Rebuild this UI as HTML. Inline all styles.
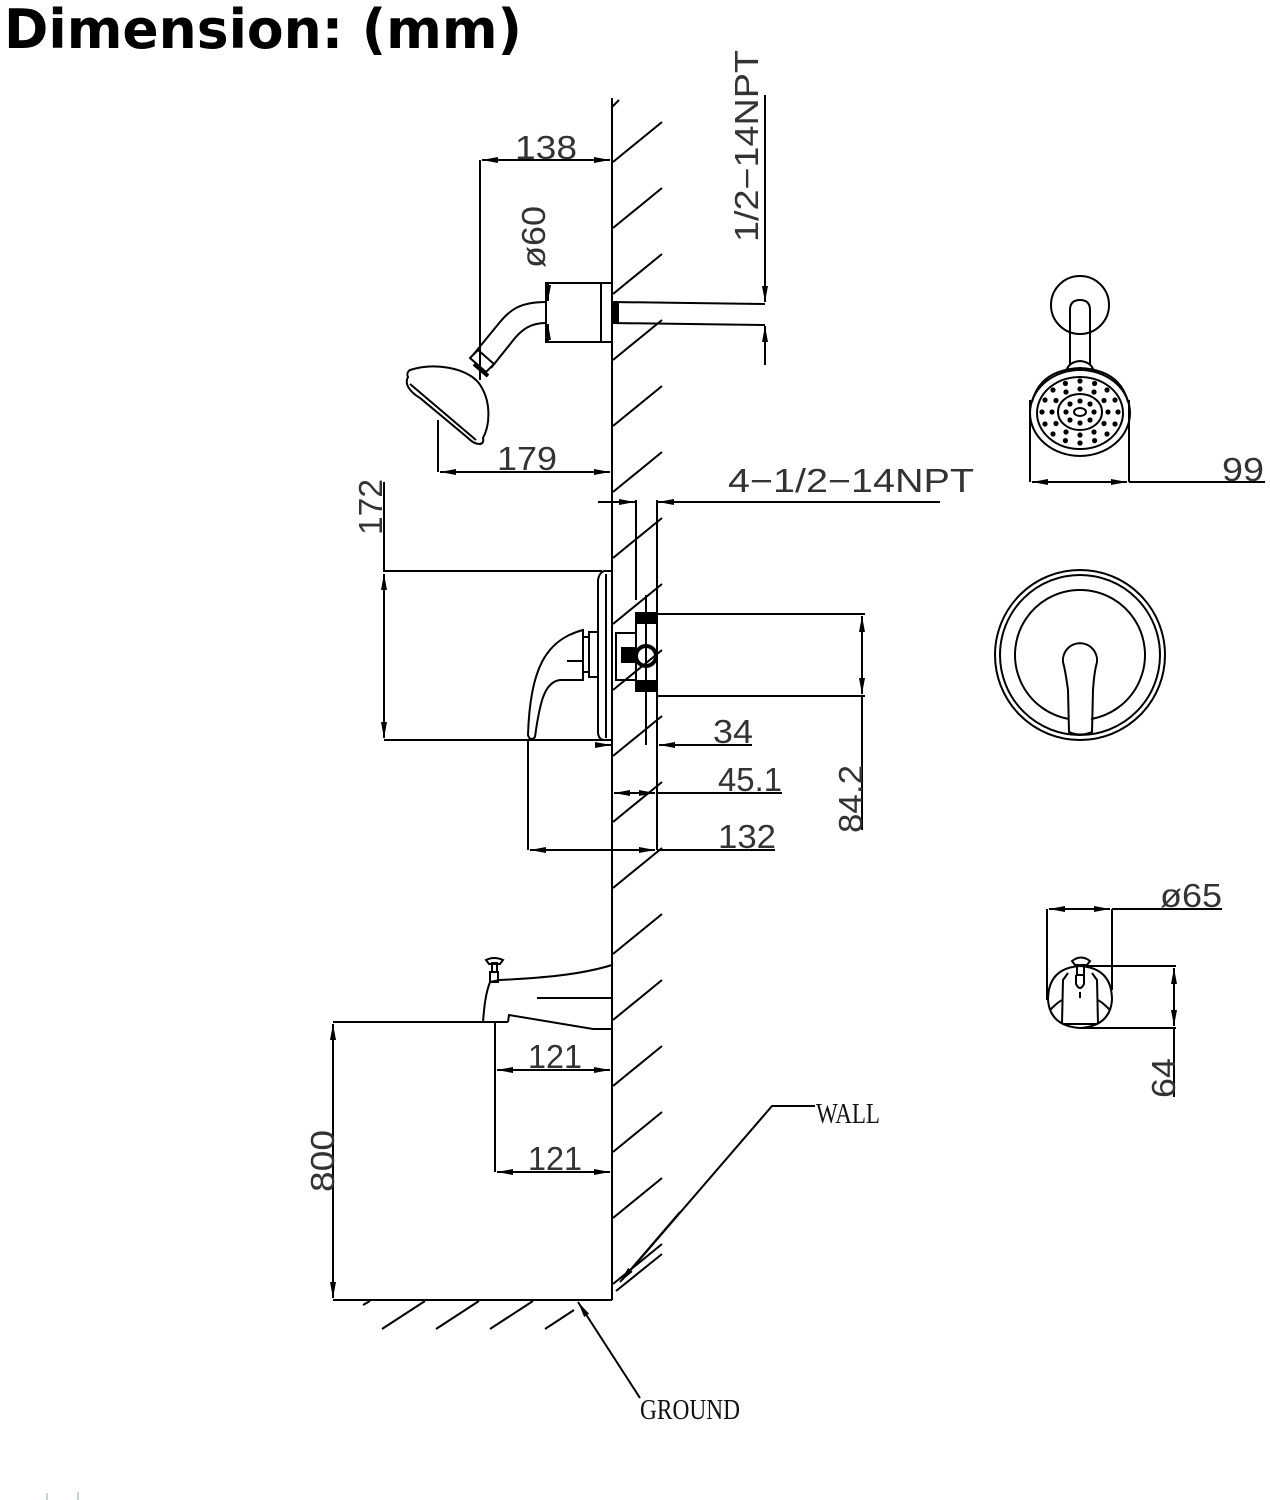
<!DOCTYPE html>
<html><head><meta charset="utf-8"><style>
html,body{margin:0;padding:0;background:#fff;}
svg{display:block;}
.d{font-family:"Liberation Sans",sans-serif;font-size:33px;fill:#333;}
.s{font-family:"Liberation Serif",serif;font-size:29px;fill:#111;}
</style></head><body>
<svg width="1270" height="1500" viewBox="0 0 1270 1500" xmlns="http://www.w3.org/2000/svg">
<defs>
<marker id="a" viewBox="0 0 16 6" refX="16" refY="3" markerWidth="16" markerHeight="6" orient="auto-start-reverse" markerUnits="userSpaceOnUse"><path d="M0,0 L16,3 L0,6 z" fill="#000"/></marker>
</defs>
<text x="4" y="48" font-family="'DejaVu Sans','Liberation Sans',sans-serif" font-weight="bold" font-size="54" textLength="518" lengthAdjust="spacingAndGlyphs" fill="#000">Dimension: (mm)</text>

<g stroke="#000" stroke-width="2" fill="none">
<line x1="612" y1="98" x2="612" y2="1300"/>
<line x1="612" y1="107" x2="619" y2="100"/>
<path d="M613,162 L662,122 M613,228 L662,188 M613,294 L662,254 M613,360 L662,320 M613,426 L662,386 M613,492 L662,452 M613,558 L662,518 M613,624 L662,584 M613,690 L662,650 M613,756 L662,716 M613,822 L662,782 M613,888 L662,848 M613,954 L662,914 M613,1020 L662,980 M613,1086 L662,1046 M613,1152 L662,1112 M613,1218 L662,1178 M613,1284 L662,1244 M616,1291 L662,1254"/>
<line x1="333" y1="1300" x2="612" y2="1300"/>
<path d="M363,1305 L370,1301 M382,1329 L425,1301 M436,1329 L479,1301 M490,1329 L533,1301 M545,1329 L574,1310"/>

<rect x="546" y="283" width="66" height="59"/>
<line x1="601" y1="283" x2="601" y2="342"/>
<path d="M546,302 C520,302 510,310 500,322 L473,355"/>
<path d="M546,323 C530,323 522,330 515,338 L491,368"/>
<path d="M470,358 L486,372 L494,364 L478,350 z"/>
<path d="M474,364 L488,376" stroke-width="4"/>
<path d="M408,377 C404,384 410,392 420,398 L468,438 C476,446 485,446 483,438 C490,425 492,400 478,382 C465,368 435,362 410,370 C407,372 407,375 408,377z"/>
<path d="M410,384 L476,440"/>
<path d="M612,302 L765,304 M612,323 L765,325"/>
<rect x="613" y="302" width="5" height="21" fill="#000"/>
<line x1="480" y1="160" x2="480" y2="380"/>
<line x1="482" y1="160" x2="610" y2="160" marker-start="url(#a)" marker-end="url(#a)"/>
<line x1="548" y1="284" x2="548" y2="301" marker-end="url(#a)"/>
<line x1="548" y1="341" x2="548" y2="324" marker-end="url(#a)"/>
<line x1="765" y1="95" x2="765" y2="302" marker-end="url(#a)"/>
<line x1="765" y1="365" x2="765" y2="326" marker-end="url(#a)"/>
<line x1="438" y1="420" x2="438" y2="472"/>
<line x1="440" y1="472" x2="610" y2="472" marker-start="url(#a)" marker-end="url(#a)"/>

<line x1="598" y1="502" x2="635" y2="502" marker-end="url(#a)"/>
<line x1="940" y1="502" x2="658" y2="502" marker-end="url(#a)"/>
<line x1="636" y1="500" x2="636" y2="600"/>
<line x1="657" y1="500" x2="657" y2="850"/>
<line x1="384" y1="482" x2="384" y2="572"/>
<line x1="384" y1="574" x2="384" y2="738" marker-start="url(#a)" marker-end="url(#a)"/>
<line x1="384" y1="571" x2="602" y2="571"/>
<line x1="384" y1="740" x2="612" y2="740"/>
<path d="M612,571 L604,571 Q599,573 598,580 L598,733 Q599,740 604,740 L612,740"/>
<line x1="606" y1="574" x2="606" y2="738"/>
<rect x="589" y="632" width="9" height="45"/>
<rect x="583" y="637" width="6" height="35"/>
<path d="M583,630 C545,640 530,670 528,735 Q530,742 535,737 C540,700 545,682 560,680 L583,680 z"/>
<path d="M567,661 L582,661"/>
<rect x="616" y="633" width="20" height="47"/>
<rect x="636" y="616" width="21" height="74"/>
<circle cx="646" cy="656" r="10" stroke-width="4"/>
<rect x="622" y="648" width="14" height="14" fill="#000"/>
<rect x="636" y="613" width="21" height="10" fill="#000"/>
<rect x="636" y="681" width="21" height="10" fill="#000"/>
<line x1="646" y1="595" x2="646" y2="745"/>
<line x1="657" y1="614" x2="865" y2="614"/>
<line x1="657" y1="696" x2="865" y2="696"/>
<line x1="862" y1="616" x2="862" y2="694" marker-start="url(#a)" marker-end="url(#a)"/>
<line x1="862" y1="696" x2="862" y2="830"/>
<line x1="752" y1="745" x2="659" y2="745" marker-end="url(#a)"/>
<line x1="598" y1="745" x2="611" y2="745" marker-end="url(#a)"/>
<line x1="614" y1="793" x2="655" y2="793" marker-start="url(#a)" marker-end="url(#a)"/>
<line x1="657" y1="793" x2="782" y2="793"/>
<line x1="528" y1="740" x2="528" y2="850"/>
<line x1="530" y1="850" x2="655" y2="850" marker-start="url(#a)" marker-end="url(#a)"/>
<line x1="657" y1="850" x2="775" y2="850"/>

<path d="M612,965 C580,975 540,978 500,980 L490,982"/>
<path d="M490,982 C485,995 484,1010 483,1022"/>
<path d="M508,1022 L509,1015 C540,1020 570,1025 593,1029 L612,1029"/>
<line x1="537" y1="998" x2="612" y2="998"/>
<rect x="490" y="972" width="8" height="10"/>
<rect x="492" y="963" width="5" height="9"/>
<path d="M486,960 Q494,956 503,960 L500,964 L489,964 z"/>
<line x1="333" y1="1022" x2="508" y2="1022"/>
<line x1="333" y1="1024" x2="333" y2="1298" marker-start="url(#a)" marker-end="url(#a)"/>
<line x1="495" y1="1022" x2="495" y2="1172"/>
<line x1="497" y1="1070" x2="610" y2="1070" marker-start="url(#a)" marker-end="url(#a)"/>
<line x1="497" y1="1172" x2="610" y2="1172" marker-start="url(#a)" marker-end="url(#a)"/>
<path d="M815,1106 L772,1106 L622,1280" />
<line x1="680" y1="1212" x2="620" y2="1282" marker-end="url(#a)"/>
<line x1="640" y1="1398" x2="578" y2="1302" marker-end="url(#a)"/>

<circle cx="1080" cy="305" r="29"/>
<path d="M1070,365 L1070,310 Q1070,300 1080,300 Q1090,300 1090,310 L1090,365"/>
<path d="M1066,372 Q1068,362 1080,361 Q1092,362 1094,372"/>
<path d="M1032,402 Q1040,370 1080,368 Q1120,370 1128,402"/>
<ellipse cx="1080" cy="413" rx="50" ry="43"/>
<ellipse cx="1080" cy="413" rx="43" ry="36"/>
<ellipse cx="1080" cy="412" rx="22" ry="18"/>
<ellipse cx="1080" cy="412" rx="6" ry="4"/>
<path d="M1030,400 L1030,482 M1129,400 L1129,482"/>
<line x1="1032" y1="482" x2="1127" y2="482" marker-start="url(#a)" marker-end="url(#a)"/>
<line x1="1129" y1="482" x2="1265" y2="482"/>

<circle cx="1080" cy="655" r="85"/>
<circle cx="1080" cy="655" r="80"/>
<path d="M1069,719 A65,65 0 1 1 1091,719"/>
<path d="M1069,732 L1068,690 Q1066,675 1064,666 A17,17 0 1 1 1096,666 Q1094,675 1093,690 L1092,732 Q1080,737 1069,732z"/>

<line x1="1047" y1="909" x2="1047" y2="1000"/>
<line x1="1112" y1="909" x2="1112" y2="990"/>
<line x1="1049" y1="909" x2="1110" y2="909" marker-start="url(#a)" marker-end="url(#a)"/>
<line x1="1112" y1="909" x2="1222" y2="909"/>
<path d="M1048,1000 Q1048,968 1080,966 Q1112,968 1112,1000 Q1110,1026 1080,1028 Q1050,1026 1048,1000z"/>
<path d="M1062,1024 L1063,980 L1068,973 M1098,1024 L1097,980 L1092,973 M1062,1024 L1098,1024"/>
<path d="M1050,1010 Q1060,1000 1063,1000 M1110,1010 Q1100,1000 1097,1000"/>
<path d="M1072,961 Q1081,954 1090,961 L1087,965 L1075,965z"/>
<rect x="1077" y="965" width="7" height="10"/>
<path d="M1076,975 L1076,984 Q1080,992 1084,984 L1084,975 M1080,992 L1080,998"/>
<line x1="1080" y1="966" x2="1176" y2="966"/>
<line x1="1080" y1="1028" x2="1176" y2="1028"/>
<line x1="1174" y1="968" x2="1174" y2="1026" marker-start="url(#a)" marker-end="url(#a)"/>
<line x1="1174" y1="1028" x2="1174" y2="1097"/>
</g>
<g fill="#000">
<circle cx="1094" cy="412" r="2.6"/><circle cx="1090" cy="420" r="2.6"/><circle cx="1080" cy="423" r="2.6"/><circle cx="1070" cy="420" r="2.6"/><circle cx="1066" cy="412" r="2.6"/><circle cx="1070" cy="404" r="2.6"/><circle cx="1080" cy="401" r="2.6"/><circle cx="1090" cy="404" r="2.6"/>
<circle cx="1108" cy="412" r="2.6"/><circle cx="1104" cy="423.5" r="2.6"/><circle cx="1094" cy="432" r="2.6"/><circle cx="1080" cy="435" r="2.6"/><circle cx="1066" cy="432" r="2.6"/><circle cx="1056" cy="423.5" r="2.6"/><circle cx="1052" cy="412" r="2.6"/><circle cx="1056" cy="400.5" r="2.6"/><circle cx="1066" cy="392" r="2.6"/><circle cx="1080" cy="389" r="2.6"/><circle cx="1094" cy="392" r="2.6"/><circle cx="1104" cy="400.5" r="2.6"/>
<circle cx="1118" cy="412" r="2.6"/><circle cx="1115" cy="424" r="2.6"/><circle cx="1107" cy="434" r="2.6"/><circle cx="1094.6" cy="440.6" r="2.6"/><circle cx="1080" cy="443" r="2.6"/><circle cx="1065.4" cy="440.6" r="2.6"/><circle cx="1053" cy="434" r="2.6"/><circle cx="1045" cy="424" r="2.6"/><circle cx="1042" cy="412" r="2.6"/><circle cx="1045" cy="400" r="2.6"/><circle cx="1053" cy="390" r="2.6"/><circle cx="1065.4" cy="383.4" r="2.6"/><circle cx="1080" cy="381" r="2.6"/><circle cx="1094.6" cy="383.4" r="2.6"/><circle cx="1107" cy="390" r="2.6"/><circle cx="1115" cy="400" r="2.6"/>
</g>

<text class="d" x="515" y="159" textLength="62" lengthAdjust="spacingAndGlyphs">138</text>
<text class="d" transform="translate(545,268) rotate(-90)" textLength="62" lengthAdjust="spacingAndGlyphs">ø60</text>
<text class="d" transform="translate(758,242) rotate(-90)" textLength="192" lengthAdjust="spacingAndGlyphs">1/2−14NPT</text>
<text class="d" x="497" y="470" textLength="60" lengthAdjust="spacingAndGlyphs">179</text>
<text class="d" x="728" y="492" textLength="246" lengthAdjust="spacingAndGlyphs">4−1/2−14NPT</text>
<text class="d" transform="translate(382,535) rotate(-90)" textLength="56" lengthAdjust="spacingAndGlyphs">172</text>
<text class="d" x="713" y="743" textLength="40" lengthAdjust="spacingAndGlyphs">34</text>
<text class="d" x="718" y="791" textLength="64" lengthAdjust="spacingAndGlyphs">45.1</text>
<text class="d" x="718" y="848" textLength="58" lengthAdjust="spacingAndGlyphs">132</text>
<text class="d" transform="translate(862,833) rotate(-90)" textLength="68" lengthAdjust="spacingAndGlyphs">84.2</text>
<text class="d" x="528" y="1068" textLength="54" lengthAdjust="spacingAndGlyphs">121</text>
<text class="d" x="528" y="1170" textLength="54" lengthAdjust="spacingAndGlyphs">121</text>
<text class="d" transform="translate(334,1192) rotate(-90)" textLength="62" lengthAdjust="spacingAndGlyphs">800</text>
<text class="d" x="1222" y="481" textLength="42" lengthAdjust="spacingAndGlyphs">99</text>
<text class="d" x="1160" y="907" textLength="62" lengthAdjust="spacingAndGlyphs">ø65</text>
<text class="d" transform="translate(1175,1098) rotate(-90)" textLength="40" lengthAdjust="spacingAndGlyphs">64</text>
<text class="s" x="816" y="1123" textLength="64" lengthAdjust="spacingAndGlyphs">WALL</text>
<text class="s" x="640" y="1419" textLength="100" lengthAdjust="spacingAndGlyphs">GROUND</text>
<line x1="47" y1="1493" x2="47" y2="1500" stroke="#8ab" stroke-width="1"/>
<line x1="78" y1="1492" x2="78" y2="1500" stroke="#8ab" stroke-width="1"/>
</svg>
</body></html>
